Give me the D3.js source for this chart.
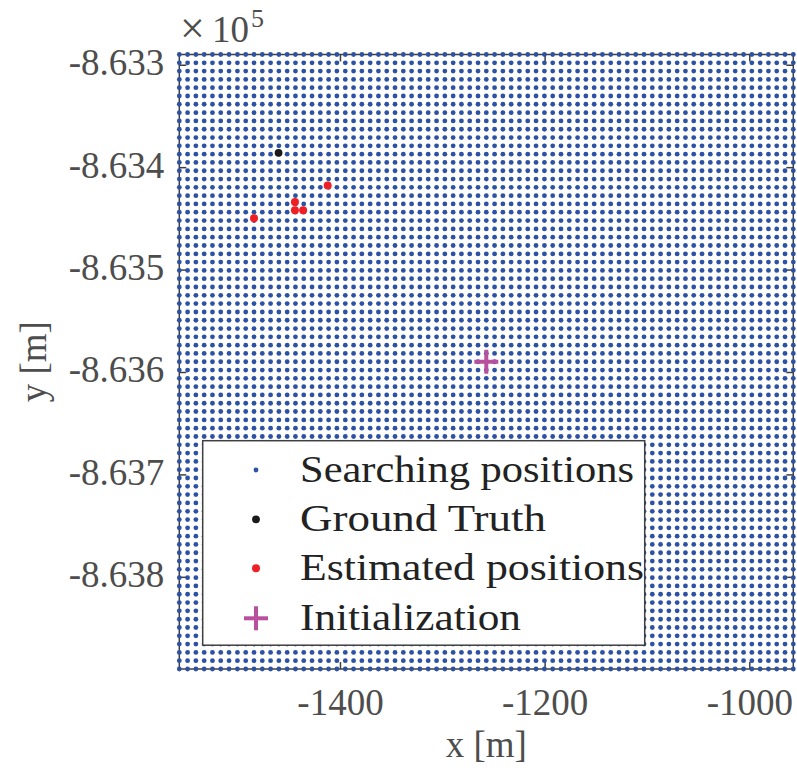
<!DOCTYPE html>
<html>
<head>
<meta charset="utf-8">
<script src="https://cdn.jsdelivr.net/npm/d3@7"></script>
<style>
  html, body { margin: 0; padding: 0; background: #fff; }
  svg { display: block; }
  text { font-family: "Liberation Serif", "Times New Roman", serif; }
</style>
</head>
<body>
<div id="chart"></div>
<script>
// Initialization of the search (centre of the search grid), in metres
const initX = [-1257];
const initY = [-863590];

// Offsets of the searching grid around the initialization (metres)
const gridOffsets = [
  -300.0, -291.9, -283.8, -275.7, -267.6, -259.5, -251.4, -243.2, -235.1, -227.0,
  -218.9, -210.8, -202.7, -194.6, -186.5, -178.4, -170.3, -162.2, -154.1, -146.0,
  -137.8, -129.7, -121.6, -113.5, -105.4, -97.3, -89.2, -81.1, -73.0, -64.9,
  -56.8, -48.6, -40.5, -32.4, -24.3, -16.2, -8.1, 0.0, 8.1, 16.2,
  24.3, 32.4, 40.5, 48.6, 56.8, 64.9, 73.0, 81.1, 89.2, 97.3,
  105.4, 113.5, 121.6, 129.7, 137.8, 146.0, 154.1, 162.2, 170.3, 178.4,
  186.5, 194.6, 202.7, 210.8, 218.9, 227.0, 235.1, 243.2, 251.4, 259.5,
  267.6, 275.7, 283.8, 291.9, 300.0
];

// Ground truth position
const truthX = [-1460];
const truthY = [-863386];

// Estimated positions
const estX = [-1412, -1444, -1444, -1436, -1484];
const estY = [-863418, -863434, -863442, -863442, -863450];

// Axis ticks
const xTicks = [-1400, -1200, -1000];
const yTicks = [-863300, -863400, -863500, -863600, -863700, -863800];
const yExponent = 5;

// Legend entries
const legendLabels = ["Searching positions", "Ground Truth", "Estimated positions", "Initialization"];

const W = 797, H = 776;
const plot = { left: 179.3, right: 793.3, top: 54.5, bottom: 669 };

const svg = d3.select("#chart").append("svg")
  .attr("width", W).attr("height", H);

const x = d3.scaleLinear()
  .domain([initX[0] + d3.min(gridOffsets), initX[0] + d3.max(gridOffsets)])
  .range([plot.left, plot.right]);
const y = d3.scaleLinear()
  .domain([initY[0] + d3.min(gridOffsets), initY[0] + d3.max(gridOffsets)])
  .range([plot.bottom, plot.top]);

const axisColor = "#3f3f3f";
const labelColor = "#4d4d4d";
const tickLen = 7;

// Plot frame
svg.append("rect")
  .attr("x", plot.left).attr("y", plot.top)
  .attr("width", plot.right - plot.left).attr("height", plot.bottom - plot.top)
  .attr("fill", "none").attr("stroke", axisColor).attr("stroke-width", 1.5);

function styleAxis(g) {
  g.select(".domain").remove();
  g.selectAll(".tick line").attr("stroke", axisColor).attr("stroke-width", 1.5);
  g.selectAll(".tick text")
    .attr("fill", labelColor)
    .attr("font-family", "Liberation Serif, serif")
    .style("font-size", "37px");
}

// Bottom and top x axes (ticks pointing inward)
svg.append("g")
  .attr("transform", `translate(0,${plot.bottom})`)
  .call(d3.axisBottom(x).tickValues(xTicks).tickSizeInner(-tickLen).tickSizeOuter(0)
    .tickPadding(20).tickFormat(d => String(d)))
  .call(styleAxis)
  .call(g => g.selectAll(".tick text").attr("dy", null).attr("y", 46));

svg.append("g")
  .attr("transform", `translate(0,${plot.top})`)
  .call(d3.axisTop(x).tickValues(xTicks).tickSizeInner(-tickLen).tickSizeOuter(0).tickFormat(""))
  .call(styleAxis);

// Left and right y axes
svg.append("g")
  .attr("transform", `translate(${plot.left},0)`)
  .call(d3.axisLeft(y).tickValues(yTicks).tickSizeInner(-tickLen).tickSizeOuter(0)
    .tickFormat(d => (d / Math.pow(10, yExponent)).toFixed(3)))
  .call(styleAxis)
  .call(g => g.selectAll(".tick text").attr("dy", null).attr("y", 10).attr("x", -15));

svg.append("g")
  .attr("transform", `translate(${plot.right},0)`)
  .call(d3.axisRight(y).tickValues(yTicks).tickSizeInner(-tickLen).tickSizeOuter(0).tickFormat(""))
  .call(styleAxis);

// Exponent label above the y axis: "×10" with a raised exponent
svg.append("text")
  .attr("x", 180).attr("y", 43)
  .attr("fill", labelColor)
  .style("font-size", "44px")
  .text("\u00d7");
svg.append("text")
  .attr("x", 212).attr("y", 42)
  .attr("fill", labelColor)
  .style("font-size", "37px")
  .text("10");
svg.append("text")
  .attr("x", 251).attr("y", 27)
  .attr("fill", labelColor)
  .style("font-size", "26px")
  .text(String(yExponent));

// Axis titles
svg.append("text")
  .attr("x", (plot.left + plot.right) / 2).attr("y", 757)
  .attr("text-anchor", "middle").attr("fill", labelColor)
  .style("font-size", "37px").text("x [m]");
svg.append("text")
  .attr("transform", `translate(46,${(plot.top + plot.bottom) / 2}) rotate(-90)`)
  .attr("text-anchor", "middle").attr("fill", labelColor)
  .style("font-size", "37px").text("y [m]");

// Searching grid
const grid = [];
gridOffsets.forEach(dx => gridOffsets.forEach(dy => grid.push([initX[0] + dx, initY[0] + dy])));
const blue = "#2d51a3";
svg.append("g").selectAll("circle").data(grid).join("circle")
  .attr("cx", d => x(d[0])).attr("cy", d => y(d[1]))
  .attr("r", 2.4).attr("fill", blue);

// Ground truth
const black = "#1a1a1a";
svg.append("g").selectAll("circle").data(d3.zip(truthX, truthY)).join("circle")
  .attr("cx", d => x(d[0])).attr("cy", d => y(d[1]))
  .attr("r", 3.9).attr("fill", black);

// Estimated positions
const red = "#ee1f25";
svg.append("g").selectAll("circle").data(d3.zip(estX, estY)).join("circle")
  .attr("cx", d => x(d[0])).attr("cy", d => y(d[1]))
  .attr("r", 4).attr("fill", red);

// Initialization marker
const magenta = "#b8509f";
function plus(g, cx, cy, half) {
  g.append("line").attr("x1", cx - half).attr("x2", cx + half).attr("y1", cy).attr("y2", cy);
  g.append("line").attr("x1", cx).attr("x2", cx).attr("y1", cy - half).attr("y2", cy + half);
}
const initG = svg.append("g").attr("stroke", magenta).attr("stroke-width", 4);
d3.zip(initX, initY).forEach(d => plus(initG, x(d[0]), y(d[1]), 12));

// Legend
const leg = { x: 202.7, y: 440.7, w: 442, h: 204.5 };
svg.append("rect")
  .attr("x", leg.x).attr("y", leg.y).attr("width", leg.w).attr("height", leg.h)
  .attr("fill", "#fff").attr("stroke", axisColor).attr("stroke-width", 1.5);

const rowY = [470, 519.3, 568.3, 618.3];
const textWidths = [334, 246, 344, 221];
const markX = 256;
const lg = svg.append("g");
lg.append("circle").attr("cx", markX).attr("cy", rowY[0]).attr("r", 2.4).attr("fill", blue);
lg.append("circle").attr("cx", markX).attr("cy", rowY[1]).attr("r", 3.9).attr("fill", black);
lg.append("circle").attr("cx", markX).attr("cy", rowY[2]).attr("r", 4).attr("fill", red);
const lp = lg.append("g").attr("stroke", magenta).attr("stroke-width", 4);
plus(lp, markX, rowY[3], 12);

lg.selectAll("text").data(legendLabels).join("text")
  .attr("x", 300).attr("y", (d, i) => rowY[i] + 12)
  .attr("fill", "#222")
  .attr("textLength", (d, i) => textWidths[i])
  .attr("lengthAdjust", "spacingAndGlyphs")
  .style("font-size", "37px")
  .text(d => d);
</script>
</body>
</html>
